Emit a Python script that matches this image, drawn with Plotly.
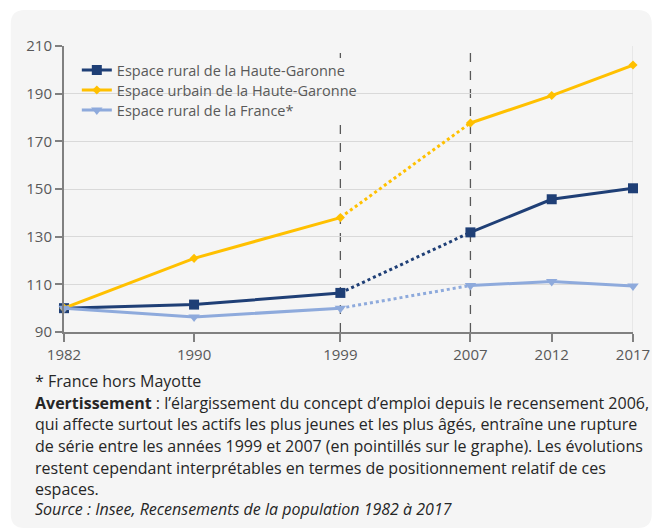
import plotly.graph_objects as go

# ---- data ----
years = [1982, 1990, 1999, 2007, 2012, 2017]
rural_hg = [100, 101.5, 106.4, 131.8, 145.7, 150.3]
urbain_hg = [100, 120.9, 138.0, 177.7, 189.2, 202.0]
rural_fr = [100, 96.3, 100.0, 109.5, 111.2, 109.3]
series_names = [
    "Espace rural de la Haute-Garonne",
    "Espace urbain de la Haute-Garonne",
    "Espace rural de la France*",
]
y_ticks = [90, 110, 130, 150, 170, 190, 210]
break_years = [1999, 2007]
notes = [
    "* France hors Mayotte",
    "<b>Avertissement</b> : l\u2019élargissement du concept d\u2019emploi depuis le recensement 2006,",
    "qui affecte surtout les actifs les plus jeunes et les plus âgés, entraîne une rupture",
    "de série entre les années 1999 et 2007 (en pointillés sur le graphe). Les évolutions",
    "restent cependant interprétables en termes de positionnement relatif de ces",
    "espaces.",
    "<i>Source : Insee, Recensements de la population 1982 à 2017</i>",
]

# ---- layout geometry (pixels) ----
OFF = 8  # page body margin
W, H = 654, 522
L, R, T, B = 56, 21, 38, 198
PW = W - L - R
PH = H - T - B


def px(xr):
    return (xr - OFF - L) / PW


def py(yr):
    return (H - B - (yr - OFF)) / PH


colors = ["#1f3f76", "#ffc000", "#8eaadc"]
symbols = ["square", "diamond", "triangle-down"]
msizes = [10, 7, 10]
values = [rural_hg, urbain_hg, rural_fr]
legend_ids = ["legend", "legend2", "legend3"]
legend_rows = [70, 90, 110]
k = years.index(break_years[0])
k2 = years.index(break_years[1])

fig = go.Figure()
for name, vals, c, s, ms, lg in zip(series_names, values, colors, symbols, msizes, legend_ids):
    fig.add_trace(go.Scatter(
        x=years[k:k2 + 1], y=vals[k:k2 + 1], mode="lines",
        line=dict(color=c, width=3, dash="dot"),
        showlegend=False, hoverinfo="skip", cliponaxis=False))
    fig.add_trace(go.Scatter(
        x=years[:k + 1], y=vals[:k + 1], mode="lines+markers", name=name,
        line=dict(color=c, width=3), marker=dict(symbol=s, size=ms, color=c),
        legend=lg, cliponaxis=False))
    fig.add_trace(go.Scatter(
        x=years[k2:], y=vals[k2:], mode="lines+markers", name=name,
        line=dict(color=c, width=3), marker=dict(symbol=s, size=ms, color=c),
        showlegend=False, cliponaxis=False))

# card background with rounded corners
x0, x1, y0, y1, r = 10, 660, 10, 528, 14
path = (
    f"M {px(x0 + r)},{py(y0)} L {px(x1 - r)},{py(y0)} "
    f"Q {px(x1)},{py(y0)} {px(x1)},{py(y0 + r)} "
    f"L {px(x1)},{py(y1 - r)} Q {px(x1)},{py(y1)} {px(x1 - r)},{py(y1)} "
    f"L {px(x0 + r)},{py(y1)} Q {px(x0)},{py(y1)} {px(x0)},{py(y1 - r)} "
    f"L {px(x0)},{py(y0 + r)} Q {px(x0)},{py(y0)} {px(x0 + r)},{py(y0)} Z"
)
shapes = [dict(type="path", path=path, xref="paper", yref="paper",
               fillcolor="#f5f5f5", line=dict(width=0), layer="below")]
for by in break_years:
    shapes.append(dict(type="line", xref="x", yref="paper", x0=by, x1=by, y0=0, y1=1,
                       line=dict(color="#595959", width=1.3, dash="dash"), layer="between"))
shapes.append(dict(type="line", xref="x", yref="paper", x0=years[-1], x1=years[-1], y0=0, y1=1,
                   line=dict(color="#d9d9d9", width=1), layer="between"))
# legend background panel (hides grid line and dashed line behind the legend)
shapes.append(dict(type="rect", xref="paper", yref="paper",
                   x0=px(66), x1=px(378), y0=py(120), y1=py(58),
                   fillcolor="#f5f5f5", line=dict(width=0), layer="between"))

annotations = []
line_y = [381, 403, 424, 446, 468, 489, 509]
for txt, yy in zip(notes, line_y):
    annotations.append(dict(text=txt, xref="paper", yref="paper", x=px(33), y=py(yy),
                            xanchor="left", yanchor="middle", showarrow=False,
                            font=dict(family="Open Sans", size=16, color="#262626")))

legend_common = dict(xanchor="left", yanchor="middle", bgcolor="rgba(0,0,0,0)",
                     font=dict(size=14.5, color="#595959"))
legends = {}
for lg, ry in zip(legend_ids, legend_rows):
    legends[lg] = dict(x=px(77), y=py(ry), **legend_common)

fig.update_layout(
    width=W, height=H,
    margin=dict(l=L, r=R, t=T, b=B),
    paper_bgcolor="white", plot_bgcolor="rgba(0,0,0,0)",
    font=dict(family="Open Sans", size=15, color="#595959"),
    shapes=shapes, annotations=annotations,
    xaxis=dict(range=[years[0], years[-1]], tickvals=years, showgrid=False, zeroline=False,
               showline=True, linecolor="#808080", linewidth=2,
               ticks="outside", ticklen=8, tickwidth=2, tickcolor="#808080",
               tickfont=dict(size=15, color="#595959")),
    yaxis=dict(range=[y_ticks[0], y_ticks[-1]], tickvals=y_ticks, showgrid=True,
               gridcolor="#d9d9d9", gridwidth=1, zeroline=False,
               showline=True, linecolor="#808080", linewidth=2,
               ticks="outside", ticklen=7, tickwidth=2, tickcolor="#808080",
               tickfont=dict(size=15, color="#595959")),
    showlegend=True,
    **legends,
)

fig.write_html("out.html")
